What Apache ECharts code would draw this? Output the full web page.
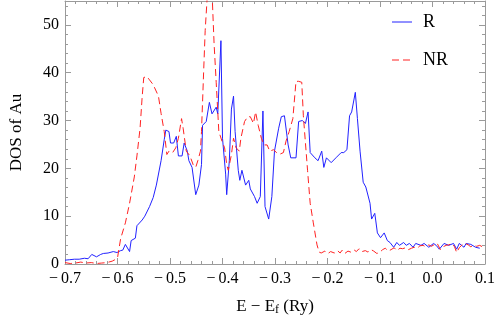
<!DOCTYPE html>
<html>
<head>
<meta charset="utf-8">
<script src="https://cdn.jsdelivr.net/npm/echarts@6/dist/echarts.min.js"></script>
<style>html,body{margin:0;padding:0;background:#fff}#c{width:498px;height:321px}</style>
</head>
<body>
<div id="c"></div>
<script>
// Relativistic DOS (R)
const rEnergy = [-0.700,-0.691,-0.682,-0.673,-0.663,-0.656,-0.649,-0.640,-0.632,-0.627,-0.618,-0.608,-0.601,-0.594,-0.590,-0.585,-0.577,-0.574,-0.566,-0.563,-0.553,-0.548,-0.539,-0.532,-0.526,-0.517,-0.511,-0.508,-0.502,-0.499,-0.493,-0.488,-0.484,-0.477,-0.473,-0.467,-0.464,-0.458,-0.451,-0.445,-0.440,-0.438,-0.431,-0.425,-0.420,-0.412,-0.409,-0.403,-0.400,-0.394,-0.392,-0.387,-0.383,-0.379,-0.376,-0.370,-0.367,-0.363,-0.356,-0.350,-0.347,-0.339,-0.334,-0.328,-0.323,-0.319,-0.312,-0.306,-0.301,-0.293,-0.288,-0.282,-0.275,-0.270,-0.260,-0.255,-0.248,-0.242,-0.237,-0.233,-0.224,-0.218,-0.211,-0.207,-0.202,-0.193,-0.184,-0.174,-0.169,-0.163,-0.158,-0.154,-0.147,-0.143,-0.138,-0.132,-0.127,-0.119,-0.116,-0.110,-0.108,-0.105,-0.099,-0.092,-0.086,-0.081,-0.074,-0.068,-0.063,-0.055,-0.050,-0.044,-0.037,-0.032,-0.022,-0.016,-0.007,0.002,0.007,0.013,0.022,0.031,0.040,0.046,0.051,0.060,0.064,0.073,0.082,0.090,0.100];
const rDos = [0.8,0.9,1.0,1.0,1.2,1.1,2.0,1.5,2.0,2.2,2.3,2.6,2.4,2.8,2.9,4.1,2.6,4.9,5.4,8.0,9.2,10.0,12.0,13.9,16.5,21.6,26.0,28.0,27.7,25.3,25.3,26.7,22.6,22.6,25.3,23.6,21.6,20.2,14.5,16.5,20.8,29.0,29.8,33.8,31.4,32.8,31.4,46.7,26.3,18.8,14.5,21.6,32.4,35.1,27.7,19.6,17.5,19.6,16.5,17.5,15.7,14.1,12.7,14.1,32.0,12.0,9.4,14.1,23.6,28.4,30.8,31.0,24.9,22.2,22.2,29.8,30.0,29.4,31.8,23.3,22.2,21.6,23.6,20.2,22.2,21.2,22.2,23.3,23.3,23.9,31.0,31.8,35.9,30.4,23.6,17.1,16.1,12.7,9.4,10.6,9.0,6.5,5.5,6.5,4.9,4.5,3.5,4.5,3.9,4.5,3.9,4.3,3.5,4.3,3.9,4.3,3.5,4.3,3.9,3.1,4.3,3.9,4.3,3.1,4.3,3.5,4.3,4.1,3.5,3.3];
// Non-relativistic DOS (NR)
const nrEnergy = [-0.700,-0.690,-0.680,-0.670,-0.660,-0.650,-0.640,-0.630,-0.620,-0.610,-0.605,-0.600,-0.594,-0.585,-0.577,-0.568,-0.563,-0.557,-0.553,-0.550,-0.544,-0.539,-0.532,-0.522,-0.517,-0.511,-0.506,-0.502,-0.495,-0.489,-0.484,-0.478,-0.475,-0.469,-0.462,-0.456,-0.451,-0.447,-0.442,-0.440,-0.436,-0.433,-0.429,-0.423,-0.420,-0.416,-0.412,-0.407,-0.401,-0.396,-0.392,-0.389,-0.383,-0.379,-0.374,-0.368,-0.365,-0.358,-0.352,-0.347,-0.341,-0.337,-0.332,-0.326,-0.321,-0.315,-0.310,-0.303,-0.297,-0.292,-0.284,-0.279,-0.273,-0.266,-0.260,-0.255,-0.249,-0.246,-0.238,-0.233,-0.227,-0.220,-0.216,-0.212,-0.205,-0.199,-0.194,-0.187,-0.181,-0.176,-0.172,-0.167,-0.161,-0.156,-0.150,-0.145,-0.140,-0.134,-0.128,-0.123,-0.117,-0.112,-0.106,-0.101,-0.095,-0.090,-0.084,-0.079,-0.073,-0.068,-0.062,-0.057,-0.051,-0.046,-0.040,-0.035,-0.029,-0.024,-0.018,-0.013,-0.007,-0.002,0.004,0.009,0.015,0.020,0.026,0.031,0.037,0.042,0.046,0.051,0.057,0.062,0.068,0.073,0.079,0.084,0.090,0.095,0.100];
const nrDos = [0.3,0.1,0.2,0.4,0.2,0.3,0.1,0.2,0.3,0.6,0.9,1.3,5.3,8.6,12.7,18.2,22.6,28.4,35.0,39.0,39.2,38.5,37.5,35.1,31.5,27.7,22.9,23.6,23.3,24.3,26.3,30.4,28.4,23.6,22.6,20.8,20.2,21.6,23.6,27.7,40.0,48.8,56.0,58.0,57.0,46.0,38.0,27.7,25.7,24.3,20.8,19.6,22.9,26.3,24.3,23.6,26.3,29.8,30.8,30.8,29.4,31.8,29.0,26.3,24.9,24.9,23.6,23.9,23.3,22.9,23.3,25.7,27.7,30.4,38.2,38.2,38.0,31.0,19.6,12.7,8.6,4.0,2.5,2.3,2.7,2.2,2.6,2.3,2.8,2.3,2.9,2.2,2.7,2.5,3.0,2.6,3.2,2.6,2.8,2.5,3.0,2.7,2.2,2.4,3.0,3.3,2.7,3.0,3.4,2.8,3.3,3.2,3.4,3.0,3.3,3.5,3.3,3.8,3.9,3.6,4.0,3.7,4.1,4.3,3.0,3.6,3.9,4.0,4.3,3.6,2.4,3.4,4.1,4.3,4.0,3.6,3.9,3.7,3.9,3.6,3.6];
const seriesNames = ['R', 'NR'];
const xTicks = {min: -0.7, max: 0.1, step: 0.1};
const yTicks = {min: 0, max: 55, step: 10};

const FONT = '"Liberation Serif", "DejaVu Serif", serif';
const FRAME = '#9a9a9a';
const BLUE = '#2222ff';
const RED = '#ff2222';
const RED_DASH = [7, 4];
function fmtX(v) {
  const s = Math.abs(v).toFixed(1);
  return v < -1e-9 ? '\u2212\u2009' + s : s;
}
function frameAxis(base, extra) {
  return Object.assign({
    type: 'value',
    axisLine: {show: true, onZero: false, lineStyle: {color: FRAME, width: 1}},
    axisTick: {show: true, inside: true, length: 6, lineStyle: {color: FRAME}},
    minorTick: {show: true, splitNumber: 5, length: 3, lineStyle: {color: FRAME}},
    splitLine: {show: false},
    minorSplitLine: {show: false}
  }, base, extra);
}
const xBase = {min: xTicks.min, max: xTicks.max, interval: xTicks.step};
const yBase = {min: yTicks.min, max: yTicks.max, interval: yTicks.step};

function legendEntry(name, color, dash, y) {
  return {
    type: 'group', x: 392, y: y,
    children: [
      {type: 'line', shape: {x1: 0, y1: 0, x2: 20, y2: 0},
       style: {stroke: color, lineWidth: 1, lineDash: dash}},
      {type: 'text', x: 31, y: 0,
       style: {text: name, fill: '#000', font: '18px ' + FONT, textVerticalAlign: 'middle', verticalAlign: 'middle'}}
    ]
  };
}

const chart = echarts.init(document.getElementById('c'), null, {renderer: 'canvas'});
chart.setOption({
  animation: false,
  backgroundColor: '#fff',
  grid: {left: 50, right: 11, top: 1, bottom: 52, containLabel: false},
  graphic: [
    legendEntry(seriesNames[0], BLUE, null, 22),
    legendEntry(seriesNames[1], RED, RED_DASH, 60)
  ],
  xAxis: [
    frameAxis(xBase, {
      position: 'bottom',
      axisLabel: {show: true, formatter: fmtX, margin: 7, color: '#000', fontFamily: FONT, fontSize: 16},
      name: 'E \u2212 E{sub|f} (Ry)', nameLocation: 'middle', nameGap: 33,
      nameTextStyle: {fontFamily: FONT, fontSize: 17, color: '#000',
        rich: {sub: {fontFamily: FONT, fontSize: 12, color: '#000', verticalAlign: 'bottom', padding: [7, 0, 0, 0]}}}
    }),
    frameAxis(xBase, {position: 'top', axisLabel: {show: false}})
  ],
  yAxis: [
    frameAxis(yBase, {
      position: 'left',
      axisLabel: {show: true, showMaxLabel: false, margin: 6, color: '#000', fontFamily: FONT, fontSize: 16,
        formatter: v => (v % 10 === 0 ? String(v) : '')},
      name: 'DOS of Au', nameLocation: 'middle', nameGap: 40,
      nameTextStyle: {fontFamily: FONT, fontSize: 17, color: '#000'}
    }),
    frameAxis(yBase, {position: 'right', axisLabel: {show: false}})
  ],
  series: [
    {
      name: seriesNames[0], type: 'line', xAxisIndex: 0, yAxisIndex: 0,
      symbol: 'none', clip: true,
      lineStyle: {color: BLUE, width: 1},
      itemStyle: {color: BLUE},
      data: rEnergy.map((e, i) => [e, rDos[i]])
    },
    {
      name: seriesNames[1], type: 'line', xAxisIndex: 0, yAxisIndex: 0,
      symbol: 'none', clip: true,
      lineStyle: {color: RED, width: 1, type: RED_DASH},
      itemStyle: {color: RED},
      data: nrEnergy.map((e, i) => [e, nrDos[i]])
    }
  ]
});
</script>
</body>
</html>
